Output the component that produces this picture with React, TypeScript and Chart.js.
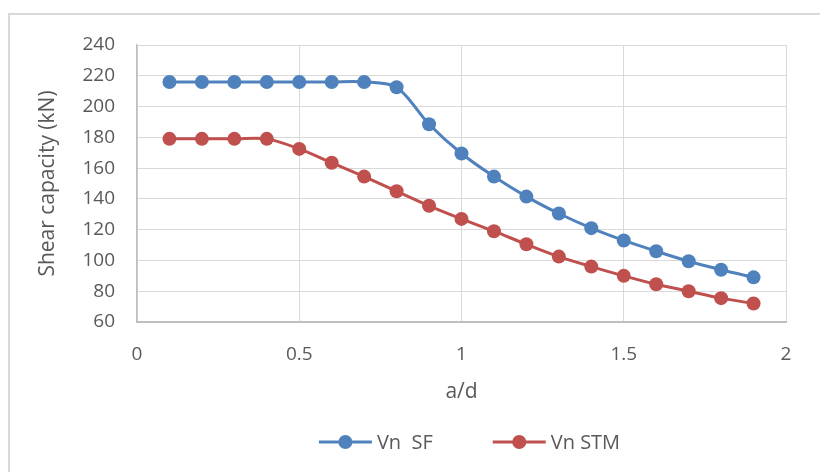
import { useEffect, useRef } from "react";
import { Chart, registerables } from "chart.js";

Chart.register(...registerables);

const aOverD = [0.1, 0.2, 0.3, 0.4, 0.5, 0.6, 0.7, 0.8, 0.9, 1.0, 1.1, 1.2, 1.3, 1.4, 1.5, 1.6, 1.7, 1.8, 1.9];
const vnSF = [216, 216, 216, 216, 216, 216, 216, 212.5, 188.5, 169.5, 154.5, 141.5, 130.5, 121, 113, 106, 99.5, 94, 89];
const vnSTM = [179, 179, 179, 179, 172.5, 163.5, 154.5, 145, 135.5, 127, 119, 110.5, 102.5, 96, 90, 84.5, 80, 75.5, 72];
const seriesLabels = ["Vn  SF", "Vn STM"];
const seriesColors = ["#4f81bd", "#c0504d"];
const xAxisTitle = "a/d";
const yAxisTitle = "Shear capacity (kN)";
const xMin = 0, xMax = 2, xStep = 0.5;
const yMin = 60, yMax = 240, yStep = 20;

const FONT = "'Open Sans', 'DejaVu Sans', sans-serif";
const TEXT = "#595959";

const frameAndLegend = {
  id: "frameAndLegend",
  beforeDraw(chart: any) {
    const ctx = chart.ctx;
    ctx.save();
    ctx.strokeStyle = "#d9d9d9";
    ctx.lineWidth = 2;
    ctx.beginPath();
    ctx.moveTo(9, chart.height + 2);
    ctx.lineTo(9, 14);
    ctx.lineTo(chart.width + 2, 14);
    ctx.stroke();
    ctx.restore();
  },
  afterDatasetsDraw(chart: any) {
    const ctx = chart.ctx;
    const a = chart.chartArea;
    ctx.save();
    ctx.font = `20px ${FONT}`;
    ctx.textBaseline = "middle";
    ctx.textAlign = "left";
    const lineLen = 53, gapText = 5, gapItem = 60;
    const widths = chart.data.datasets.map((d: any) => ctx.measureText(d.label).width);
    let total = 0;
    widths.forEach((w: number, i: number) => {
      total += lineLen + gapText + w + (i < widths.length - 1 ? gapItem : 0);
    });
    let x = (a.left + a.right) / 2 + 8 - total / 2;
    const y = 442;
    chart.data.datasets.forEach((d: any, i: number) => {
      ctx.strokeStyle = d.borderColor;
      ctx.lineWidth = 3;
      ctx.beginPath();
      ctx.moveTo(x, y);
      ctx.lineTo(x + lineLen, y);
      ctx.stroke();
      ctx.fillStyle = d.backgroundColor;
      ctx.beginPath();
      ctx.arc(x + lineLen / 2, y, 7, 0, Math.PI * 2);
      ctx.fill();
      ctx.fillStyle = TEXT;
      ctx.fillText(d.label, x + lineLen + gapText, y + 1);
      x += lineLen + gapText + widths[i] + gapItem;
    });
    ctx.restore();
  },
};

export default function App() {
  const ref = useRef<HTMLCanvasElement | null>(null);
  useEffect(() => {
    if (!ref.current) return;
    const mk = (vals: number[], i: number) => ({
      label: seriesLabels[i],
      data: aOverD.map((x, k) => ({ x, y: vals[k] })),
      borderColor: seriesColors[i],
      backgroundColor: seriesColors[i],
      pointBackgroundColor: seriesColors[i],
      pointBorderColor: seriesColors[i],
      pointRadius: 7,
      pointBorderWidth: 0,
      borderWidth: 3,
      tension: 0.3,
      fill: false,
    });
    const chart = new Chart(ref.current, {
      type: "line",
      data: { datasets: [mk(vnSF, 0), mk(vnSTM, 1)] },
      options: {
        animation: false,
        responsive: false,
        events: [],
        layout: { padding: { left: 0, right: 34, top: 45, bottom: 0 } },
        plugins: { legend: { display: false }, tooltip: { enabled: false } },
        scales: {
          x: {
            type: "linear",
            min: xMin,
            max: xMax,
            afterFit: (s: any) => { s.height = 150; },
            ticks: {
              stepSize: xStep,
              color: TEXT,
              font: { family: FONT, size: 19 },
              padding: 21,
              maxRotation: 0,
              callback: (v: any) => String(Number(v)),
            },
            grid: { color: "#d9d9d9", lineWidth: 1, drawTicks: false },
            border: { color: "#bfbfbf", width: 2 },
            title: { display: true, text: xAxisTitle, color: TEXT, font: { family: FONT, size: 21 }, padding: { top: 0, bottom: 67 } },
          },
          y: {
            min: yMin,
            max: yMax,
            afterFit: (s: any) => { s.width = 137; },
            ticks: { stepSize: yStep, color: TEXT, font: { family: FONT, size: 19 }, padding: 22 },
            grid: { color: "#d9d9d9", lineWidth: 1, drawTicks: false },
            border: { color: "#bfbfbf", width: 1.5 },
            title: { display: true, text: yAxisTitle, color: TEXT, font: { family: FONT, size: 21 }, padding: { top: 35, bottom: 0 } },
          },
        },
      },
      plugins: [frameAndLegend],
    });
    return () => chart.destroy();
  }, []);
  return (
    <div style={{ position: "fixed", left: 0, top: 0, width: 820, height: 472, background: "#fff" }}>
      <canvas ref={ref} width={820} height={472} style={{ display: "block", width: 820, height: 472 }} />
    </div>
  );
}
